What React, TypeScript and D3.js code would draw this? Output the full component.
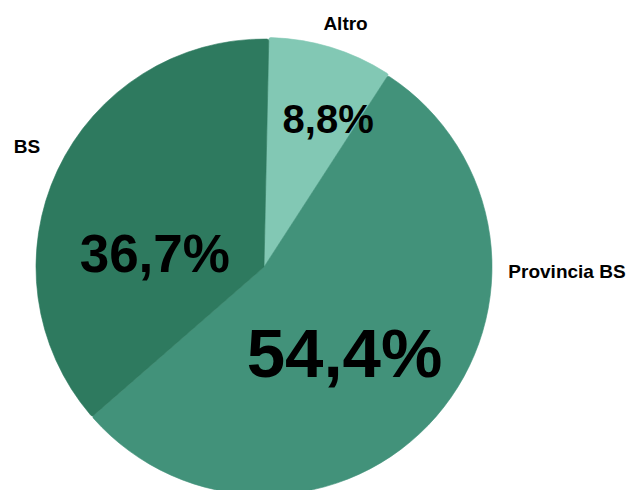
import React from "react";
import * as d3 from "d3";

const categories = ["Altro", "Provincia BS", "BS"];
const values = [8.8, 54.4, 36.7];
const valueLabels = ["8,8%", "54,4%", "36,7%"];
const colors = ["#82c8b4", "#42927a", "#2e7a5f"];

const W = 629;
const H = 490;
const cx = 264;
const cy = 267;
const R = 228;
const startAngle = 0.021;

// label placement (angle in degrees clockwise from top, radius in px, font size)
const valuePos = [
  { a: 23.5, r: 161, size: 40 },
  { a: 137, r: 118, size: 69 },
  { a: 277, r: 110, size: 53 },
];
const namePos = [
  { a: 18.5, r: 257 },
  { a: 90.8, r: 303 },
  { a: 297, r: 266 },
];
const outer = [R + 1.5, R, R];

export default function App() {
  const pie = d3
    .pie<number>()
    .sort(null)
    .value((d) => d)
    .startAngle(startAngle)
    .endAngle(startAngle + Math.PI * 2);
  const arcs = pie(values);

  const polar = (deg: number, r: number) => {
    const t = (deg * Math.PI) / 180;
    return [cx + r * Math.sin(t), cy - r * Math.cos(t)];
  };
  const font = "'Liberation Sans', Arial, sans-serif";

  return (
    <svg
      width={W}
      height={H}
      style={{ position: "absolute", left: 0, top: 0, background: "#fff" }}
    >
      <g transform={`translate(${cx},${cy})`}>
        {arcs.map((d, i) => {
          const arc = d3
            .arc<d3.PieArcDatum<number>>()
            .innerRadius(0)
            .outerRadius(outer[i])
            .cornerRadius(2);
          return (
            <path
              key={i}
              d={arc(d) || ""}
              fill={colors[i]}
              stroke={colors[i]}
              strokeWidth={0.6}
            />
          );
        })}
      </g>
      {valueLabels.map((t, i) => {
        const [x, y] = polar(valuePos[i].a, valuePos[i].r);
        return (
          <text
            key={"v" + i}
            x={x}
            y={y}
            textAnchor="middle"
            dominantBaseline="central"
            fontFamily={font}
            fontWeight={700}
            fontSize={valuePos[i].size}
            fill="#000"
          >
            {t}
          </text>
        );
      })}
      {categories.map((t, i) => {
        const [x, y] = polar(namePos[i].a, namePos[i].r);
        return (
          <text
            key={"n" + i}
            x={x}
            y={y}
            textAnchor="middle"
            dominantBaseline="central"
            fontFamily={font}
            fontWeight={700}
            fontSize={19}
            fill="#000"
          >
            {t}
          </text>
        );
      })}
    </svg>
  );
}
